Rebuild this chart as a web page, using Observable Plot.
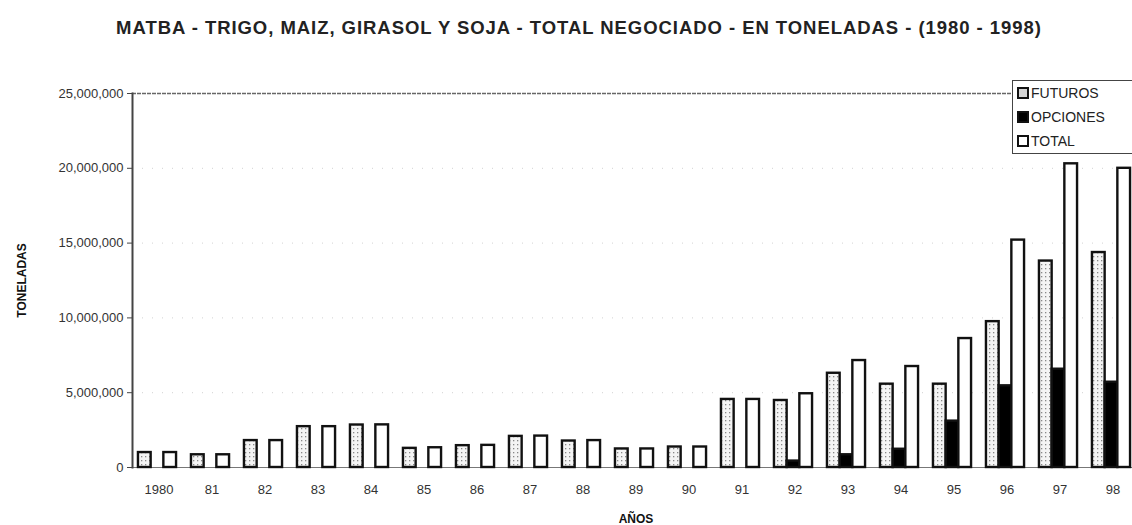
<!DOCTYPE html>
<html>
<head>
<meta charset="utf-8">
<script src="https://cdn.jsdelivr.net/npm/d3@7"></script>
<script src="https://cdn.jsdelivr.net/npm/@observablehq/plot@0.6"></script>
<style>
  html, body { margin: 0; padding: 0; background: #fff; }
  body { width: 1132px; height: 525px; position: relative; overflow: hidden; font-family: "Liberation Sans", Arial, sans-serif; }
  #title { position: absolute; left: 0; top: 17px; width: 1158px; text-align: center; font-weight: bold; font-size: 18.5px; color: #222; letter-spacing: 0.95px; white-space: nowrap; }
  #chart { position: absolute; left: 0; top: 55px; }
  #legend { position: absolute; left: 1012px; top: 80px; width: 130px; height: 72px; background: #fff; border: 1.5px solid #444; border-right: none; font-size: 14px; color: #222; }
  .item { position: absolute; left: 4px; height: 14px; line-height: 14px; white-space: nowrap; }
  .sw { display: inline-block; width: 8px; height: 8px; border: 2px solid #111; vertical-align: -1px; margin-right: 2px; }
</style>
</head>
<body>
<div id="title">MATBA - TRIGO, MAIZ, GIRASOL Y SOJA - TOTAL NEGOCIADO - EN TONELADAS - (1980 - 1998)</div>
<div id="chart"></div>
<div id="legend">
  <div class="item" style="top:5px"><span class="sw" style="background:#d4d4d4"></span>FUTUROS</div>
  <div class="item" style="top:29px"><span class="sw" style="background:#000"></span>OPCIONES</div>
  <div class="item" style="top:53px"><span class="sw" style="background:#fff"></span>TOTAL</div>
</div>
<script>
const years = ["1980","81","82","83","84","85","86","87","88","89","90","91","92","93","94","95","96","97","98"];
const futuros = [1.00,0.85,1.80,2.73,2.84,1.28,1.46,2.08,1.77,1.24,1.37,4.55,4.48,6.30,5.57,5.57,9.75,13.80,14.37];
const opciones = [0,0,0,0,0,0,0,0,0,0,0,0,0.43,0.85,1.22,3.10,5.46,6.57,5.70];
const total = [1.00,0.85,1.80,2.73,2.85,1.32,1.48,2.10,1.80,1.24,1.37,4.55,4.93,7.15,6.75,8.62,15.20,20.30,20.00];
const yTicks = [0, 5000000, 10000000, 15000000, 20000000, 25000000];
const gridTicks = [5000000, 10000000, 15000000, 20000000];

const M = 1e6;
const rows = (vals) => years.map((y, i) => ({year: y, value: vals[i] * M}));
const futRows = rows(futuros);
const opcRows = rows(opciones).filter(d => d.value > 0);
const totRows = rows(total);

const BW = 53, BAR = 12.7, GROUP = BAR * 3, OFF = (BW - GROUP) / 2 - 1.5;

const plot = Plot.plot({
  width: 1132,
  height: 470,
  marginTop: 38,
  marginBottom: 58,
  marginLeft: 132,
  marginRight: -7,
  style: {fontFamily: "'Liberation Sans', Arial, sans-serif", fontSize: "13px", color: "#333", background: "#fff"},
  x: {type: "band", domain: years, padding: 0},
  y: {domain: [0, 25000000]},
  marks: [
    Plot.ruleY(gridTicks, {stroke: "#999", strokeOpacity: 0.45, strokeDasharray: "1,9"}),
    Plot.ruleY([25000000], {stroke: "#666", strokeWidth: 1.3, strokeDasharray: "4,1"}),
    Plot.ruleY([0], {stroke: "#777", strokeWidth: 1.2}),
    Plot.frame({anchor: "left", stroke: "#444", strokeWidth: 2}),
    Plot.barY(futRows, {x: "year", y: "value", fill: "url(#dots)", stroke: "#111", strokeWidth: 2.4,
      insetLeft: OFF, insetRight: BW - OFF - BAR}),
    Plot.barY(opcRows, {x: "year", y: "value", fill: "#000", stroke: "#111", strokeWidth: 2.4,
      insetLeft: OFF + BAR, insetRight: BW - OFF - 2 * BAR}),
    Plot.barY(totRows, {x: "year", y: "value", fill: "#fff", stroke: "#111", strokeWidth: 2.4,
      insetLeft: OFF + 2 * BAR, insetRight: BW - OFF - 3 * BAR}),
    Plot.axisY({ticks: yTicks, tickFormat: d3.format(","), tickSize: 5, tickPadding: 4, stroke: "#444",
      label: "TONELADAS", labelAnchor: "center", labelArrow: "none", labelOffset: 115,
      fontWeight: "normal"}),
    Plot.axisX({tickSize: 0, tickPadding: 17, label: "AÑOS", labelAnchor: "center", labelArrow: "none", labelOffset: 55}),
  ]
});

// pattern for FUTUROS fill
const svg = d3.select(plot);
const defs = svg.insert("defs", ":first-child");
const pat = defs.append("pattern").attr("id", "dots").attr("patternUnits", "userSpaceOnUse")
  .attr("width", 4).attr("height", 4);
pat.append("rect").attr("width", 4).attr("height", 4).attr("fill", "#f4f4f4");
pat.append("rect").attr("x", 1).attr("y", 1).attr("width", 1.3).attr("height", 1.3).attr("fill", "#888");
// bold axis labels
svg.selectAll("g[aria-label='y-axis label'] text, g[aria-label='x-axis label'] text")
  .attr("font-weight", "bold").attr("font-size", 12).attr("fill", "#111");
svg.selectAll("g[aria-label='y-axis tick label'] text, g[aria-label='x-axis tick label'] text").attr("fill", "#333");
document.getElementById("chart").appendChild(plot);
</script>
</body>
</html>
